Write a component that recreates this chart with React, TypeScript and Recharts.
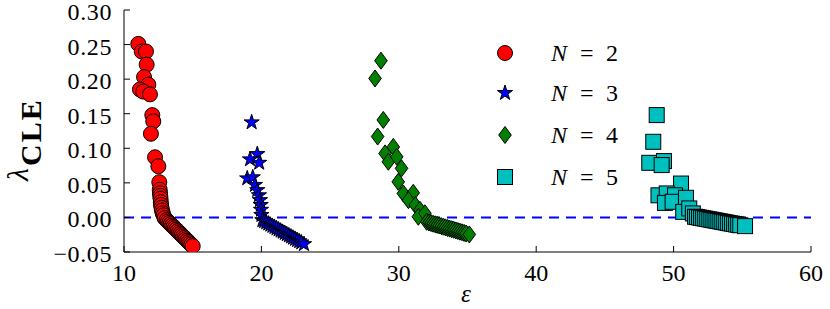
import { ScatterChart, Scatter, XAxis, YAxis, ReferenceLine } from 'recharts';

const SERIF = "'Liberation Serif', 'Times New Roman', serif";

// tick positions of the figure
const xTicks = [10, 20, 30, 40, 50, 60];
const yTicks = [-0.05, 0, 0.05, 0.1, 0.15, 0.2, 0.25, 0.3];

// (epsilon, lambda_CLE), one list per N
const n2Points: [number, number][] = [
  [11.04, 0.251], [11.29, 0.24], [11.6, 0.24], [11.65, 0.221], [11.46, 0.203],
  [11.77, 0.192], [11.16, 0.185], [11.4, 0.182], [11.89, 0.178], [12.06, 0.148],
  [12.13, 0.139], [11.96, 0.121], [12.26, 0.087], [12.5, 0.074], [12.57, 0.051],
  [12.6, 0.04], [12.62, 0.035], [12.64, 0.031], [12.66, 0.027], [12.68, 0.022],
  [12.7, 0.018], [12.73, 0.014], [12.77, 0.01], [12.82, 0.006], [12.88, 0.003],
  [12.96, -0.001], [13.1, -0.0038], [13.2, -0.0058], [13.3, -0.0078], [13.4, -0.0097],
  [13.5, -0.0117], [13.6, -0.0137], [13.7, -0.0157], [13.8, -0.0177], [13.9, -0.0197],
  [14.0, -0.0216], [14.1, -0.0236], [14.2, -0.0256], [14.3, -0.0276], [14.4, -0.0296],
  [14.5, -0.0316], [14.6, -0.0336], [14.7, -0.0355], [14.8, -0.0375], [14.9, -0.0395],
  [15.0, -0.0415],
];

const n3Points: [number, number][] = [
  [19.29, 0.1375], [19.7, 0.0916], [19.17, 0.084], [19.84, 0.079], [18.97, 0.0565],
  [19.37, 0.058], [19.53, 0.047], [19.7, 0.0395], [19.82, 0.032], [19.9, 0.025],
  [19.95, 0.018], [19.97, 0.011], [20.0, 0.0035], [20.07, -0.004], [20.2, -0.0055],
  [20.35, -0.0072], [20.5, -0.0089], [20.65, -0.0106], [20.8, -0.0123], [20.95, -0.014],
  [21.1, -0.0158], [21.25, -0.0175], [21.4, -0.0192], [21.55, -0.0209], [21.7, -0.0226],
  [21.85, -0.0243], [22.0, -0.026], [22.15, -0.0277], [22.3, -0.0294], [22.45, -0.0311],
  [22.6, -0.0328], [22.75, -0.0345], [22.9, -0.0362], [23.1, -0.0386],
];

const n4Points: [number, number][] = [
  [28.7, 0.2267], [28.27, 0.201], [28.87, 0.141], [28.46, 0.117], [29.0, 0.0926],
  [29.24, 0.0805], [29.6, 0.102], [29.85, 0.0877], [30.2, 0.071], [29.96, 0.0515],
  [30.33, 0.0347], [31.05, 0.0356], [30.7, 0.025], [31.2, 0.018], [31.54, 0.011],
  [31.42, 0.001], [31.9, 0.006], [32.03, -0.0063], [32.2, -0.0073], [32.35, -0.0082],
  [32.5, -0.0091], [32.65, -0.01], [32.8, -0.0108], [32.95, -0.0117], [33.1, -0.0126],
  [33.25, -0.0135], [33.4, -0.0144], [33.55, -0.0153], [33.7, -0.0162], [33.85, -0.017],
  [34.0, -0.0179], [34.15, -0.0188], [34.3, -0.0197], [34.45, -0.0206], [34.6, -0.0215],
  [34.75, -0.0224], [34.9, -0.0232], [35.13, -0.0246],
];

const n5Points: [number, number][] = [
  [48.77, 0.148], [48.52, 0.1094], [48.23, 0.079], [49.3, 0.0815], [49.13, 0.0757],
  [50.54, 0.049], [48.9, 0.032], [49.5, 0.0347], [50.1, 0.032], [49.37, 0.021],
  [49.93, 0.0226], [50.9, 0.0284], [50.7, 0.008], [51.14, 0.013], [51.4, 0.0058],
  [51.56, 0.001], [51.7, 0.0005], [51.85, -0.0001], [52.0, -0.0006], [52.15, -0.0012],
  [52.3, -0.0017], [52.45, -0.0023], [52.6, -0.0029], [52.75, -0.0034], [52.9, -0.004],
  [53.05, -0.0045], [53.2, -0.0051], [53.35, -0.0057], [53.5, -0.0062], [53.65, -0.0068],
  [53.8, -0.0073], [53.95, -0.0079], [54.1, -0.0085], [54.25, -0.009], [54.4, -0.0096],
  [54.55, -0.0101], [54.7, -0.0107], [54.85, -0.0113], [55.2, -0.0126],
];

type Kind = 'circle' | 'star' | 'diamond' | 'square';

const series: { n: number; points: [number, number][]; kind: Kind; fill: string }[] = [
  { n: 2, points: n2Points, kind: 'circle', fill: '#ff0000' },
  { n: 3, points: n3Points, kind: 'star', fill: '#0000ff' },
  { n: 4, points: n4Points, kind: 'diamond', fill: '#007f00' },
  { n: 5, points: n5Points, kind: 'square', fill: '#00bfbf' },
];

function starPath(cx: number, cy: number, r: number) {
  const pts: string[] = [];
  for (let i = 0; i < 10; i++) {
    const rr = i % 2 === 0 ? r : r * 0.382;
    const a = -Math.PI / 2 + (i * Math.PI) / 5;
    pts.push(`${cx + rr * Math.cos(a)},${cy + rr * Math.sin(a)}`);
  }
  return pts.join(' ');
}

function Marker({ kind, cx, cy, fill }: { kind: Kind; cx: number; cy: number; fill: string }) {
  const stroke = '#000';
  if (kind === 'circle') return <circle cx={cx} cy={cy} r={7.5} fill={fill} stroke={stroke} strokeWidth={1} />;
  if (kind === 'star') return <polygon points={starPath(cx, cy, 8)} fill={fill} stroke={stroke} strokeWidth={1} />;
  if (kind === 'diamond')
    return (
      <polygon
        points={`${cx},${cy - 8.5} ${cx + 6.3},${cy} ${cx},${cy + 8.5} ${cx - 6.3},${cy}`}
        fill={fill}
        stroke={stroke}
        strokeWidth={1}
      />
    );
  return <rect x={cx - 7.5} y={cy - 7.5} width={15} height={15} fill={fill} stroke={stroke} strokeWidth={1} />;
}

const fmtY = (v: number) => (v < 0 ? '\u2212' + Math.abs(v).toFixed(2) : v.toFixed(2));

const tickStyle = { fontFamily: SERIF, fontSize: 24 };

// ticks point inwards, like the matplotlib frame
const BottomTick = (p: any) => (
  <g>
    <line x1={p.x} x2={p.x} y1={p.y - 4} y2={p.y - 10} stroke="#000" />
    <text x={p.x} y={p.y + 25} textAnchor="middle" fill="#000" style={tickStyle}>
      {p.payload.value}
    </text>
  </g>
);
const TopTick = (p: any) => <line x1={p.x} x2={p.x} y1={p.y} y2={p.y + 6} stroke="#000" />;
const LeftTick = (p: any) => (
  <g>
    <line x1={p.x + 12} x2={p.x + 18} y1={p.y} y2={p.y} stroke="#000" />
    <text x={p.x} y={p.y + 10} textAnchor="end" fill="#000" style={{ ...tickStyle, letterSpacing: 0.6 }}>
      {fmtY(p.payload.value)}
    </text>
  </g>
);
const RightTick = (p: any) => <line x1={p.x} x2={p.x - 6} y1={p.y} y2={p.y} stroke="#000" />;

const legendRows = [53, 93, 135, 177];

export default function App() {
  const frame = { stroke: '#000', strokeWidth: 1 };
  return (
    <div style={{ position: 'absolute', left: 0, top: 0, width: 830, height: 309, background: '#fff' }}>
      <ScatterChart width={830} height={309} margin={{ top: 10, right: 19, bottom: 27, left: 64 }}>
        <XAxis
          xAxisId="b"
          dataKey="x"
          type="number"
          domain={[10, 60]}
          ticks={xTicks}
          interval={0}
          allowDataOverflow
          height={30}
          tickSize={0}
          tickMargin={4}
          tickLine={false}
          axisLine={frame}
          tick={<BottomTick />}
        />
        <XAxis
          xAxisId="t"
          orientation="top"
          type="number"
          domain={[10, 60]}
          ticks={xTicks}
          interval={0}
          allowDataOverflow
          height={0}
          tickSize={0}
          tickMargin={0}
          tickLine={false}
          axisLine={frame}
          tick={<TopTick />}
        />
        <YAxis
          yAxisId="l"
          dataKey="y"
          type="number"
          domain={[-0.05, 0.3]}
          ticks={yTicks}
          interval={0}
          allowDataOverflow
          width={60}
          tickSize={0}
          tickMargin={12}
          tickLine={false}
          axisLine={frame}
          tick={<LeftTick />}
        />
        <YAxis
          yAxisId="r"
          orientation="right"
          type="number"
          domain={[-0.05, 0.3]}
          ticks={yTicks}
          interval={0}
          allowDataOverflow
          width={0}
          tickSize={0}
          tickMargin={0}
          tickLine={false}
          axisLine={frame}
          tick={<RightTick />}
        />
        {series.map((s) => (
          <Scatter
            key={s.n}
            xAxisId="b"
            yAxisId="l"
            data={s.points.map(([x, y]) => ({ x, y }))}
            isAnimationActive={false}
            shape={(p: any) => <Marker kind={s.kind} cx={p.cx} cy={p.cy} fill={s.fill} />}
          />
        ))}
        <ReferenceLine xAxisId="b" yAxisId="l" y={0} stroke="#0000ff" strokeWidth={2} strokeDasharray="10 7" />
      </ScatterChart>
      <svg
        width={830}
        height={309}
        style={{ position: 'absolute', left: 0, top: 0, pointerEvents: 'none', fontFamily: SERIF }}
      >
        <text transform="translate(28,181) rotate(-90)" fill="#000">
          <tspan style={{ fontStyle: 'italic', fontSize: 30 }}>λ</tspan>
          <tspan dy={13} dx={2} style={{ fontWeight: 'bold', fontSize: 30, letterSpacing: 2 }}>
            CLE
          </tspan>
        </text>
        <text x={466} y={302} textAnchor="middle" fill="#000" style={{ fontStyle: 'italic', fontSize: 25 }}>
          ε
        </text>
        {series.map((s, i) => (
          <g key={s.n}>
            <Marker kind={s.kind} cx={505} cy={legendRows[i]} fill={s.fill} />
            <text y={legendRows[i] + 8} fill="#000" style={{ fontSize: 24 }}>
              <tspan x={551} style={{ fontStyle: 'italic' }}>
                N
              </tspan>
              <tspan x={580}>=</tspan>
              <tspan x={606}>{s.n}</tspan>
            </text>
          </g>
        ))}
      </svg>
    </div>
  );
}
